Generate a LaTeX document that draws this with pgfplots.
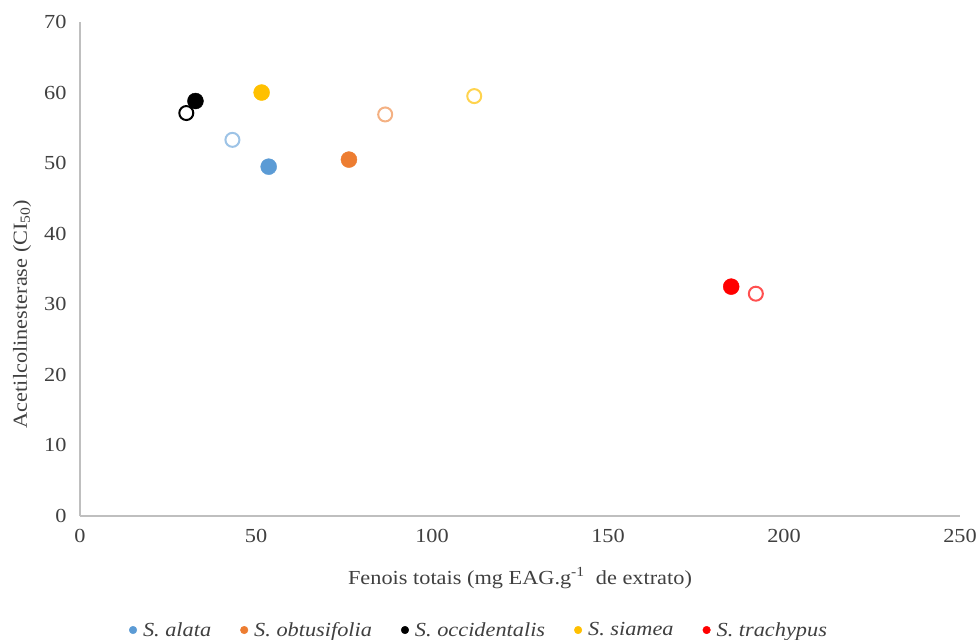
\documentclass[border=0pt]{standalone}
\usepackage{fontspec}
\setmainfont{Liberation Serif}[FakeStretch=1.12]
\usepackage{pgfplots}
\pgfplotsset{compat=1.18}
\definecolor{cblue}{HTML}{5B9BD5}
\definecolor{cblueL}{HTML}{9DC3E6}
\definecolor{corange}{HTML}{ED7D31}
\definecolor{corangeL}{HTML}{F4B183}
\definecolor{cgold}{HTML}{FFC000}
\definecolor{cgoldL}{HTML}{FFD34D}
\definecolor{cred}{HTML}{FF0000}
\definecolor{credL}{HTML}{FF5050}
\definecolor{axgray}{HTML}{BFBFBF}
\definecolor{txt}{HTML}{404040}
\begin{document}
\begin{tikzpicture}
\useasboundingbox (-80bp,-124bp) rectangle (899bp,516bp);
\begin{axis}[
  at={(0,0)}, anchor=south west,
  scale only axis,
  width=880bp, height=494bp,
  xmin=0, xmax=250, ymin=0, ymax=70,
  xtick={0,50,...,250}, ytick={0,10,...,70},
  axis lines*=left,
  axis line style={axgray, line width=1.2bp},
  major tick length=0pt,
  tick label style={font=\fontsize{20}{24}\selectfont, text=txt},
  xticklabel style={yshift=-10bp},
  yticklabel style={xshift=-10bp},
  /pgf/number format/assume math mode=true,
  xlabel={Fenois totais (mg EAG.g\textsuperscript{-1}\ \ de extrato)},
  ylabel={Acetilcolinesterase (CI\textsubscript{50})},
  label style={font=\fontsize{20}{24}\selectfont, text=txt},
  xlabel style={at={(axis description cs:0.5,0)}, anchor=center, yshift=-62bp},
  ylabel style={at={(axis description cs:-0.0659,0.409)}, anchor=center},
  legend style={at={(axis description cs:0.4534,-0.2308)}, anchor=center, draw=none, legend columns=5,
    font=\fontsize{20}{24}\selectfont\itshape, text=txt,
    /tikz/every odd column/.append style={column sep=4bp},
    /tikz/every even column/.append style={column sep=27bp}},
  legend cell align=left,
  legend image code/.code={\fill[#1] (0bp,0bp) circle (3.8bp);},
  clip=false,
]
\addplot[only marks, mark=*, mark size=8bp, draw=cblue, fill=cblue] coordinates {(53.6,49.5)};
\addlegendentry{S. alata}
\addplot[only marks, mark=*, mark size=8bp, draw=corange, fill=corange] coordinates {(76.4,50.5)};
\addlegendentry{S. obtusifolia}
\addplot[only marks, mark=*, mark size=8bp, draw=black, fill=black] coordinates {(32.8,58.8)};
\addlegendentry{S. occidentalis}
\addplot[only marks, mark=*, mark size=8bp, draw=cgold, fill=cgold] coordinates {(51.6,60.0)};
\addlegendentry{S. siamea}
\addplot[only marks, mark=*, mark size=8bp, draw=cred, fill=cred] coordinates {(185,32.5)};
\addlegendentry{S. trachypus}
\addplot[forget plot, only marks, mark=o, mark size=7bp, mark options={draw=cblueL, fill=white, line width=2bp}] coordinates {(43.3,53.3)};
\addplot[forget plot, only marks, mark=o, mark size=7bp, mark options={draw=corangeL, fill=white, line width=2bp}] coordinates {(86.7,56.9)};
\addplot[forget plot, only marks, mark=o, mark size=7bp, mark options={draw=black, fill=white, line width=2bp}] coordinates {(30.2,57.1)};
\addplot[forget plot, only marks, mark=o, mark size=7bp, mark options={draw=cgoldL, fill=white, line width=2bp}] coordinates {(112,59.5)};
\addplot[forget plot, only marks, mark=o, mark size=7bp, mark options={draw=credL, fill=white, line width=2bp}] coordinates {(192,31.5)};
\end{axis}
\end{tikzpicture}
\end{document}
